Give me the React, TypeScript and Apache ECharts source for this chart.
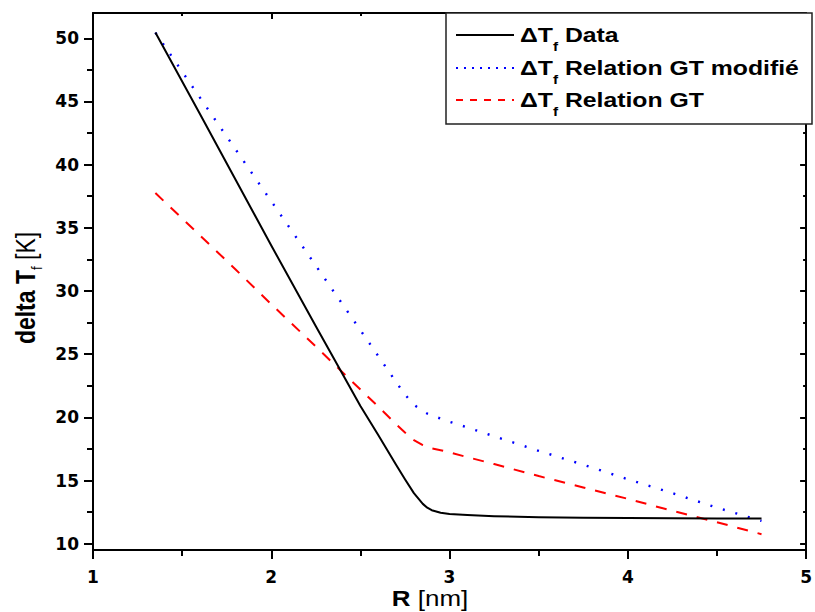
import React, { useEffect, useRef } from "react";
import * as echarts from "echarts";

const R = [1.35, 1.6, 1.8, 2.0, 2.25, 2.5, 2.6, 2.7, 2.75, 2.8, 2.85, 2.875, 2.9, 2.95, 3.0, 3.1, 3.25, 3.5, 3.75, 4.0, 4.25, 4.5, 4.75];
const dataSeries = [50.45, 44.0, 38.8, 33.6, 27.2, 20.9, 18.6, 16.25, 15.1, 14.0, 13.15, 12.85, 12.65, 12.45, 12.35, 12.27, 12.18, 12.1, 12.06, 12.03, 12.01, 12.0, 12.0];
const gtModSeries = [50.45, 45.3, 41.2, 37.1, 32.0, 26.9, 24.85, 22.8, 21.8, 21.0, 20.5, 20.3, 20.15, 19.9, 19.65, 19.2, 18.5, 17.35, 16.25, 15.1, 14.0, 12.85, 11.8];
const gtSeries = [37.75, 34.4, 31.7, 28.95, 25.6, 22.2, 20.85, 19.45, 18.8, 18.2, 17.8, 17.65, 17.55, 17.4, 17.22, 16.85, 16.3, 15.35, 14.45, 13.55, 12.6, 11.7, 10.75];

const yMajor = [10, 15, 20, 25, 30, 35, 40, 45, 50];
const yMinor = [12.5, 17.5, 22.5, 27.5, 32.5, 37.5, 42.5, 47.5];

const legendNames = ["Data", "Relation GT modifié", "Relation GT"];

const pairs = (ys: number[]) => R.map((x, i) => [x, ys[i]]);

export default function App() {
  const ref = useRef<HTMLDivElement>(null);
  useEffect(() => {
    const chart = echarts.init(ref.current!, null, { renderer: "svg" });
    const black = "#000";
    const tickFont = { fontFamily: "DejaVu Sans", fontWeight: "bold" as const, fontSize: 17, color: black };
    const baseX = {
      type: "value" as const,
      min: 1,
      max: 5,
      interval: 1,
      splitLine: { show: false },
      axisLine: { show: true, onZero: false, lineStyle: { color: black, width: 2 } },
    };
    const baseY = {
      type: "value" as const,
      min: 9.5,
      max: 52,
      splitLine: { show: false },
      axisLine: { show: true, onZero: false, lineStyle: { color: black, width: 2 } },
    };
    const lg = { x0: 446, y0: 13, w: 366, h: 111 };
    const rowsY = [35, 68, 100];
    const lineStyles = [
      { stroke: "#000", lineWidth: 2 },
      { stroke: "#0000ff", lineWidth: 2, lineDash: [2, 6] },
      { stroke: "#ff0000", lineWidth: 2, lineDash: [7, 7] },
    ];
    const richLegend = {
      a: { fontFamily: "Liberation Sans", fontWeight: "bold", fontSize: 21, fill: "#000" },
      s: { fontFamily: "Liberation Sans", fontWeight: "bold", fontSize: 13, fill: "#000", padding: [22, 0, 0, 0] },
    };
    chart.setOption({
      animation: false,
      backgroundColor: "#fff",
      grid: { left: 93, right: 3, top: 13, bottom: 62, containLabel: false },
      xAxis: [
        {
          ...baseX,
          position: "bottom",
          axisTick: { show: true, inside: false, length: 9, lineStyle: { color: black, width: 2 } },
          minorTick: { show: true, splitNumber: 2, length: 6, lineStyle: { color: black, width: 2 } },
          axisLabel: { ...tickFont, margin: 18 },
        },
        {
          ...baseX,
          position: "top",
          axisTick: { show: true, inside: true, length: 6, lineStyle: { color: black, width: 2 } },
          minorTick: { show: true, splitNumber: 2, length: 3, lineStyle: { color: black, width: 2 } },
          axisLabel: { show: false },
        },
      ],
      yAxis: [
        {
          ...baseY,
          position: "left",
          axisTick: { show: true, inside: false, length: 9, customValues: yMajor, lineStyle: { color: black, width: 2 } },
          axisLabel: { ...tickFont, margin: 14, customValues: yMajor },
        },
        {
          ...baseY,
          position: "left",
          axisLine: { show: false },
          axisTick: { show: true, inside: false, length: 6, customValues: yMinor, lineStyle: { color: black, width: 2 } },
          axisLabel: { show: false },
        },
        {
          ...baseY,
          position: "right",
          axisTick: { show: true, inside: true, length: 6, customValues: yMajor, lineStyle: { color: black, width: 2 } },
          axisLabel: { show: false },
        },
        {
          ...baseY,
          position: "right",
          axisLine: { show: false },
          axisTick: { show: true, inside: true, length: 3, customValues: yMinor, lineStyle: { color: black, width: 2 } },
          axisLabel: { show: false },
        },
      ],
      series: [
        {
          name: legendNames[0],
          type: "line",
          data: pairs(dataSeries),
          showSymbol: false,
          lineStyle: { color: "#000", width: 2, join: "round" },
          z: 3,
        },
        {
          name: legendNames[1],
          type: "line",
          data: pairs(gtModSeries),
          showSymbol: false,
          lineStyle: { color: "#0000ff", width: 2.4, type: [2, 11] },
          z: 2,
        },
        {
          name: legendNames[2],
          type: "line",
          data: pairs(gtSeries),
          showSymbol: false,
          lineStyle: { color: "#ff0000", width: 2, type: [11, 10] },
          z: 2,
        },
      ],
      graphic: [
        {
          type: "rect",
          z: 10,
          shape: { x: lg.x0, y: lg.y0, width: lg.w, height: lg.h },
          style: { fill: "#fff", stroke: "#222", lineWidth: 1.5 },
        },
        ...rowsY.map((y, i) => ({
          type: "line",
          z: 11,
          shape: { x1: 456, y1: y, x2: 514, y2: y },
          style: lineStyles[i],
        })),
        ...rowsY.map((y, i) => ({
          type: "text",
          z: 11,
          x: 520,
          y: y,
          scaleX: 1.18,
          style: {
            text: "{a|ΔT}{s|f}{a| " + legendNames[i] + "}",
            rich: richLegend,
            textAlign: "left",
            verticalAlign: "middle",
          },
        })),
        {
          type: "text",
          z: 11,
          x: 430,
          y: 598,
          scaleX: 1.18,
          style: {
            text: "{b|R}{n| [nm]}",
            rich: {
              b: { fontFamily: "Liberation Sans", fontWeight: "bold", fontSize: 22, fill: "#000" },
              n: { fontFamily: "Liberation Sans", fontWeight: "normal", fontSize: 22, fill: "#000" },
            },
            textAlign: "center",
            verticalAlign: "middle",
          },
        },
        {
          type: "text",
          z: 11,
          x: 25,
          y: 288,
          rotation: Math.PI / 2,
          scaleY: 1.18,
          style: {
            text: "{b|delta T}{s|f}{n| [K]}",
            rich: {
              b: { fontFamily: "Liberation Sans", fontWeight: "bold", fontSize: 23, fill: "#000" },
              s: { fontFamily: "Liberation Sans", fontWeight: "normal", fontSize: 13, fill: "#000", padding: [20, 0, 0, 0] },
              n: { fontFamily: "Liberation Sans", fontWeight: "normal", fontSize: 23, fill: "#000" },
            },
            textAlign: "center",
            verticalAlign: "middle",
          },
        },
      ],
    });
    return () => chart.dispose();
  }, []);
  return (
    <div
      ref={ref}
      style={{ position: "fixed", left: 0, top: 0, width: 815, height: 612 }}
    />
  );
}
